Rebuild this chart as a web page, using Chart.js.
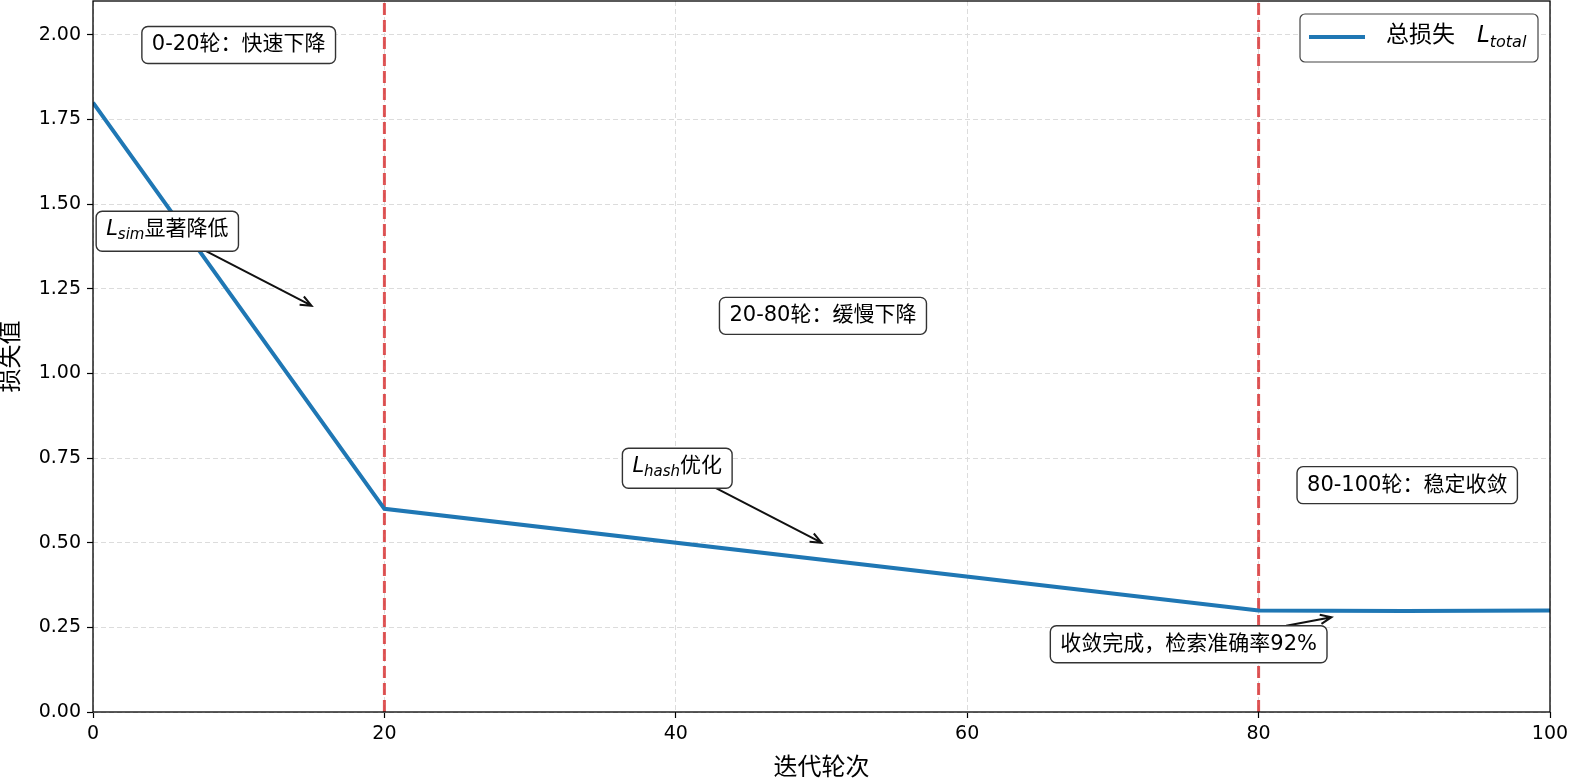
<!DOCTYPE html>
<html>
<head>
<meta charset="utf-8">
<script src="https://cdn.jsdelivr.net/npm/chart.js@4.4.0/dist/chart.umd.min.js"></script>
<style>
  html, body { margin: 0; padding: 0; background: #fff; }
  canvas { display: block; }
</style>
</head>
<body>
<canvas id="lossChart" width="1571" height="781" style="width:1571px;height:781px"></canvas>
<script>
// data
var epochs = [0, 20, 80, 90, 100];
var totalLoss = [1.8, 0.6, 0.3, 0.298, 0.3];
var xTickStep = 20;
var yTickStep = 0.25;
var phaseLines = [20, 80];

// annotations: text pieces, where the box sits, where the arrow points
var noteParts = [
  [{t: '0-20轮：快速下降'}],
  [{t: 'L', it: true}, {t: 'sim', it: true, sub: true}, {t: '显著降低'}],
  [{t: '20-80轮：缓慢下降'}],
  [{t: 'L', it: true}, {t: 'hash', it: true, sub: true}, {t: '优化'}],
  [{t: '80-100轮：稳定收敛'}],
  [{t: '收敛完成，检索准确率92%'}]
];
var noteX = [10, 5.1, 50.1, 40.1, 90.2, 75.2];
var noteY = [1.97, 1.42, 1.17, 0.72, 0.67, 0.2];
var arrowX = [null, 15, null, 50, null, 85];
var arrowY = [null, 1.2, null, 0.5, null, 0.28];

var legendParts = [{t: '总损失   '}, {t: 'L', it: true}, {t: 'total', it: true, sub: true}];

var FONT = '"DejaVu Sans", "Noto Sans CJK SC", sans-serif';

function partFont(p, size) {
  var s = p.sub ? Math.round(size * 0.7) : size;
  if (p.it) return 'italic ' + s + 'px "DejaVu Sans", sans-serif';
  return s + 'px ' + FONT;
}
function richWidth(ctx, parts, size) {
  var w = 0;
  for (var i = 0; i < parts.length; i++) {
    ctx.font = partFont(parts[i], size);
    w += ctx.measureText(parts[i].t).width;
  }
  return w;
}
function drawRich(ctx, parts, x, y, size) {
  ctx.textBaseline = 'middle';
  ctx.textAlign = 'left';
  ctx.fillStyle = '#000';
  for (var i = 0; i < parts.length; i++) {
    var p = parts[i];
    ctx.font = partFont(p, size);
    ctx.fillText(p.t, x, p.sub ? y + size * 0.3 : y);
    x += ctx.measureText(p.t).width;
  }
}

var extras = {
  id: 'extras',
  beforeDatasetsDraw: function(chart) {
    var ctx = chart.ctx, xs = chart.scales.x, a = chart.chartArea;
    ctx.save();
    ctx.strokeStyle = 'rgba(214, 39, 40, 0.78)';
    ctx.lineWidth = 3;
    ctx.setLineDash([12, 5]);
    phaseLines.forEach(function(v) {
      var px = xs.getPixelForValue(v);
      ctx.beginPath();
      ctx.moveTo(px, a.bottom);
      ctx.lineTo(px, a.top);
      ctx.stroke();
    });
    ctx.restore();
  },
  afterDatasetsDraw: function(chart) {
    var ctx = chart.ctx, xs = chart.scales.x, ys = chart.scales.y;
    var size = 21;
    ctx.save();
    for (var i = 0; i < noteParts.length; i++) {
      var cx = xs.getPixelForValue(noteX[i]);
      var cy = ys.getPixelForValue(noteY[i]);
      var tw = richWidth(ctx, noteParts[i], size);
      var hasSub = noteParts[i].some(function(p) { return p.sub; });
      var w = tw + 20, h = hasSub ? 40 : 37;
      if (arrowX[i] !== null) {
        var tx = xs.getPixelForValue(arrowX[i]);
        var ty = ys.getPixelForValue(arrowY[i]);
        var dx = tx - cx, dy = ty - cy;
        var k = Math.min((w / 2) / Math.abs(dx || 1e-6), (h / 2) / Math.abs(dy || 1e-6));
        var sx = cx + dx * k, sy = cy + dy * k;
        var ang = Math.atan2(ty - sy, tx - sx);
        ctx.strokeStyle = '#111';
        ctx.lineWidth = 2;
        ctx.setLineDash([]);
        ctx.beginPath();
        ctx.moveTo(sx, sy);
        ctx.lineTo(tx, ty);
        ctx.moveTo(tx - 12 * Math.cos(ang - 0.4), ty - 12 * Math.sin(ang - 0.4));
        ctx.lineTo(tx, ty);
        ctx.lineTo(tx - 12 * Math.cos(ang + 0.4), ty - 12 * Math.sin(ang + 0.4));
        ctx.stroke();
      }
      ctx.fillStyle = '#fff';
      ctx.strokeStyle = '#333';
      ctx.lineWidth = 1.4;
      ctx.beginPath();
      ctx.roundRect(cx - w / 2, cy - h / 2, w, h, 6);
      ctx.fill();
      ctx.stroke();
      drawRich(ctx, noteParts[i], cx - tw / 2, hasSub ? cy - 2 : cy, size);
    }
    ctx.restore();
  },
  afterDraw: function(chart) {
    var ctx = chart.ctx, a = chart.chartArea;
    ctx.save();
    // frame
    ctx.strokeStyle = '#000';
    ctx.lineWidth = 1.3;
    ctx.setLineDash([]);
    ctx.strokeRect(a.left, a.top, a.right - a.left, a.bottom - a.top);
    // legend
    var lx = 1300, ly = 14, lw = 238, lh = 48;
    ctx.fillStyle = '#fff';
    ctx.strokeStyle = '#444';
    ctx.lineWidth = 1.2;
    ctx.beginPath();
    ctx.roundRect(lx, ly, lw, lh, 5);
    ctx.fill();
    ctx.stroke();
    ctx.strokeStyle = '#1f77b4';
    ctx.lineWidth = 4;
    ctx.beginPath();
    ctx.moveTo(lx + 9, ly + 23);
    ctx.lineTo(lx + 65, ly + 23);
    ctx.stroke();
    drawRich(ctx, legendParts, lx + 86, ly + 22, 23);
    ctx.restore();
  }
};

new Chart(document.getElementById('lossChart'), {
  type: 'line',
  data: {
    datasets: [{
      label: '总损失 L_total',
      data: epochs.map(function(e, i) { return {x: e, y: totalLoss[i]}; }),
      borderColor: '#1f77b4',
      borderWidth: 4,
      pointRadius: 0,
      tension: 0,
      fill: false
    }]
  },
  options: {
    responsive: false,
    animation: false,
    layout: { padding: { left: 0, right: 21, top: 1, bottom: 0 } },
    plugins: { legend: { display: false }, tooltip: { enabled: false } },
    scales: {
      x: {
        type: 'linear',
        min: 0,
        max: 100,
        afterFit: function(s) { s.height = 69; s.paddingLeft = 0; s.paddingRight = 0; },
        ticks: {
          stepSize: xTickStep,
          includeBounds: false,
          color: '#000',
          padding: 5,
          maxRotation: 0,
          font: { family: FONT, size: 19 }
        },
        grid: { color: '#dcdcdc', lineWidth: 1, tickColor: '#000', tickLength: 6, tickWidth: 1.2 },
        border: { display: false, dash: [5, 3] },
        title: {
          display: true,
          text: '迭代轮次',
          color: '#000',
          font: { family: FONT, size: 24, lineHeight: 1 },
          padding: { top: 0, bottom: 0 }
        }
      },
      y: {
        min: 0,
        max: 2.1,
        afterFit: function(s) { s.width = 93; s.paddingTop = 0; s.paddingBottom = 0; },
        ticks: {
          stepSize: yTickStep,
          includeBounds: false,
          color: '#000',
          padding: 6,
          font: { family: FONT, size: 19 },
          callback: function(v) { return v.toFixed(2); }
        },
        grid: { color: '#dcdcdc', lineWidth: 1, tickColor: '#000', tickLength: 6, tickWidth: 1.2 },
        border: { display: false, dash: [5, 3] },
        title: {
          display: true,
          text: '损失值',
          color: '#000',
          font: { family: FONT, size: 24, lineHeight: 1 },
          padding: { top: 0, bottom: 0 }
        }
      }
    }
  },
  plugins: [extras]
});
</script>
</body>
</html>
